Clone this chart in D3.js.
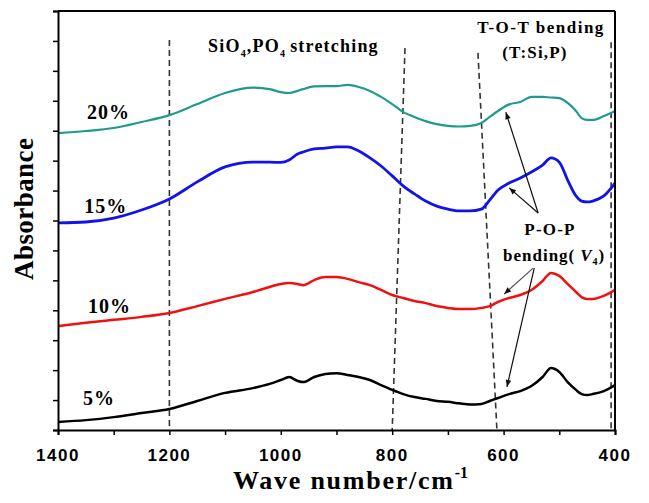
<!DOCTYPE html>
<html>
<head>
<meta charset="utf-8">
<script src="https://cdn.jsdelivr.net/npm/d3@7"></script>
<style>
  body { margin: 0; background: #fff; }
  .tick-label { font-family: "Liberation Sans", Arial, sans-serif; font-weight: bold; font-size: 17px; }
  .serif { font-family: "Liberation Serif", "Times New Roman", serif; font-weight: bold; }
</style>
</head>
<body>
<svg id="chart" width="649" height="503"></svg>
<script>
// wave numbers (cm-1) sampled along the spectra
var wavenumbers = [1400, 1350, 1300, 1250, 1200, 1150, 1100, 1050, 1020, 1000, 985, 970, 960, 940, 920, 900,
  880, 860, 840, 820, 800, 780, 760, 740, 720, 700, 680, 660, 640, 625, 610, 590, 570, 550, 530, 515,
  500, 485, 470, 460, 450, 440, 420, 400];
var abs20 = [9.92, 9.99, 10.09, 10.29, 10.52, 10.89, 11.26, 11.44, 11.39, 11.29, 11.26, 11.33, 11.39, 11.48, 11.49, 11.49,
  11.53, 11.46, 11.33, 11.13, 10.89, 10.62, 10.46, 10.32, 10.22, 10.16, 10.14, 10.16, 10.26, 10.46, 10.66, 10.88,
  10.96, 11.13, 11.13, 11.11, 11.09, 10.93, 10.66, 10.42, 10.36, 10.36, 10.49, 10.66];
var abs15 = [6.92, 6.95, 7.08, 7.35, 7.72, 8.29, 8.79, 8.95, 8.95, 8.94, 9.02, 9.22, 9.29, 9.39, 9.42, 9.46,
  9.46, 9.32, 9.09, 8.82, 8.49, 8.15, 7.89, 7.65, 7.48, 7.38, 7.32, 7.32, 7.38, 7.68, 8.02, 8.25,
  8.42, 8.62, 8.85, 9.09, 8.95, 8.35, 7.82, 7.65, 7.62, 7.65, 7.82, 8.25];
var abs10 = [3.47, 3.58, 3.68, 3.78, 3.91, 4.14, 4.38, 4.61, 4.78, 4.88, 4.91, 4.88, 4.84, 5.01, 5.11, 5.11,
  5.05, 4.94, 4.84, 4.68, 4.51, 4.41, 4.31, 4.24, 4.14, 4.08, 4.04, 4.04, 4.08, 4.14, 4.28, 4.41,
  4.51, 4.68, 4.98, 5.25, 5.15, 4.88, 4.61, 4.44, 4.38, 4.38, 4.48, 4.68];
var abs5 = [0.27, 0.33, 0.43, 0.57, 0.70, 0.97, 1.24, 1.40, 1.54, 1.67, 1.77, 1.64, 1.60, 1.77, 1.87, 1.90,
  1.84, 1.77, 1.67, 1.50, 1.34, 1.20, 1.10, 1.04, 0.97, 0.94, 0.89, 0.85, 0.87, 0.97, 1.07, 1.20,
  1.30, 1.47, 1.77, 2.07, 1.94, 1.60, 1.34, 1.20, 1.17, 1.20, 1.30, 1.50];
var seriesNames = ["20%", "15%", "10%", "5%"];
var xTickValues = [1400, 1300, 1200, 1100, 1000, 900, 800, 700, 600, 500, 400];
var xTickLabels = [1400, 1200, 1000, 800, 600, 400];
var yTickValues = [0, 1, 2, 3, 4, 5, 6, 7, 8, 9, 10, 11, 12, 13, 14];
// dashed guide lines: wave number at top and bottom, absorbance at top
var guideTopW = [1200, 777, 646, 407];
var guideBottomW = [1200, 800, 612, 407];
var guideTopA = [13.03, 12.76, 12.6, 12.96];
// arrows from the P-O-P label
var arrowFrom = [[538, 7.25], [538, 7.25], [547, 5.41], [545, 5.41]];
var arrowTo = [[596, 10.62], [590, 8.09], [599, 4.54], [594, 1.44]];

var W = 649, H = 503;
var margin = {top: 11, right: 34, bottom: 73, left: 58};
var chartWidth = W - margin.left - margin.right;
var chartHeight = H - margin.top - margin.bottom;

var svg = d3.select('#chart');
var g = svg.append('g').attr('transform', 'translate(' + margin.left + ',' + margin.top + ')');

var xScale = d3.scaleLinear().domain([1400, 400]).range([0, chartWidth]);
var yScale = d3.scaleLinear().domain([0, 14]).range([chartHeight, 0]);

var series = [
  {name: seriesNames[0], values: abs20, color: '#1f9a8c', width: 2.2, labelW: 1348, labelA: 10.39},
  {name: seriesNames[1], values: abs15, color: '#1212ee', width: 2.8, labelW: 1353, labelA: 7.25},
  {name: seriesNames[2], values: abs10, color: '#f01010', width: 2.5, labelW: 1346, labelA: 3.91},
  {name: seriesNames[3], values: abs5, color: '#000000', width: 2.5, labelW: 1355, labelA: 0.84}
];

// guides
g.selectAll('.guide')
  .data(guideTopW)
  .enter().append('line')
  .attr('class', 'guide')
  .attr('x1', function (d) { return xScale(d); })
  .attr('y1', function (d, i) { return yScale(guideTopA[i]); })
  .attr('x2', function (d, i) { return xScale(guideBottomW[i]); })
  .attr('y2', chartHeight)
  .attr('stroke', '#333')
  .attr('stroke-width', 1.6)
  .attr('stroke-dasharray', '6,4');

// curves
var line = d3.line()
  .x(function (d) { return xScale(d[0]); })
  .y(function (d) { return yScale(d[1]); })
  .curve(d3.curveMonotoneX);

series.forEach(function (s) {
  var pts = wavenumbers.map(function (w, i) { return [w, s.values[i]]; });
  g.append('path')
    .datum(pts)
    .attr('d', line)
    .attr('fill', 'none')
    .attr('stroke', s.color)
    .attr('stroke-width', s.width)
    .attr('stroke-linejoin', 'round');
  g.append('text')
    .attr('class', 'serif')
    .attr('x', xScale(s.labelW))
    .attr('y', yScale(s.labelA))
    .attr('font-size', 20)
    .attr('letter-spacing', 1)
    .text(s.name);
});

// arrows
var defs = svg.append('defs');
defs.append('marker')
  .attr('id', 'head')
  .attr('viewBox', '0 -5 10 10')
  .attr('refX', 10).attr('refY', 0)
  .attr('markerWidth', 10).attr('markerHeight', 7)
  .attr('markerUnits', 'userSpaceOnUse')
  .attr('orient', 'auto')
  .append('path').attr('d', 'M0,-4L10,0L0,4Z').attr('fill', '#111');

g.selectAll('.arrow')
  .data(arrowFrom)
  .enter().append('line')
  .attr('class', 'arrow')
  .attr('x1', function (d) { return xScale(d[0]); })
  .attr('y1', function (d) { return yScale(d[1]); })
  .attr('x2', function (d, i) { return xScale(arrowTo[i][0]); })
  .attr('y2', function (d, i) { return yScale(arrowTo[i][1]); })
  .attr('stroke', function (d, i) { return i === 2 ? '#555' : '#111'; })
  .attr('stroke-width', 1.2)
  .attr('marker-end', 'url(#head)');

// axes
var xAxis = g.append('g')
  .attr('transform', 'translate(0,' + chartHeight + ')')
  .call(d3.axisBottom(xScale).tickValues(xTickValues).tickSize(5).tickFormat(''));
xAxis.select('.domain').attr('stroke-width', 2);
xAxis.selectAll('.tick line').attr('stroke-width', 1.5);

var yAxis = g.append('g')
  .call(d3.axisLeft(yScale).tickValues(yTickValues).tickSize(5).tickFormat(''));
yAxis.select('.domain').attr('stroke-width', 2);
yAxis.selectAll('.tick line').attr('stroke-width', 1.5);

// top and right frame
g.append('line').attr('x1', 0).attr('x2', chartWidth).attr('y1', 0).attr('y2', 0)
  .attr('stroke', '#000').attr('stroke-width', 2);
g.append('line').attr('x1', chartWidth).attr('x2', chartWidth).attr('y1', 0).attr('y2', chartHeight)
  .attr('stroke', '#000').attr('stroke-width', 2);

g.selectAll('.xlab')
  .data(xTickLabels)
  .enter().append('text')
  .attr('class', 'tick-label')
  .attr('x', function (d) { return xScale(d); })
  .attr('y', chartHeight + 31)
  .attr('text-anchor', 'middle')
  .attr('letter-spacing', 1.5)
  .text(function (d) { return d; });

// axis titles
svg.append('text')
  .attr('class', 'serif')
  .attr('transform', 'translate(33,209) rotate(-90)')
  .attr('text-anchor', 'middle')
  .attr('font-size', 27)
  .attr('textLength', 142)
  .attr('lengthAdjust', 'spacing')
  .text('Absorbance');

var xt = svg.append('text')
  .attr('class', 'serif')
  .attr('x', 233)
  .attr('y', 489)
  .attr('font-size', 26);
xt.append('tspan').attr('textLength', 220).attr('lengthAdjust', 'spacing').text('Wave number/cm');
xt.append('tspan').attr('font-size', 16).attr('dy', -11).text('-1');

// annotations
var a1 = svg.append('text').attr('class', 'serif').attr('x', 208).attr('y', 52)
  .attr('font-size', 18).attr('letter-spacing', 1.2);
a1.append('tspan').text('SiO');
a1.append('tspan').attr('font-size', 10).attr('dy', 5).text('4');
a1.append('tspan').attr('dy', -5).text(',PO');
a1.append('tspan').attr('font-size', 10).attr('dy', 5).text('4');
a1.append('tspan').attr('dy', -5).attr('dx', 4).text('stretching');

svg.append('text').attr('class', 'serif').attr('x', 541).attr('y', 33)
  .attr('text-anchor', 'middle').attr('font-size', 17).attr('letter-spacing', 1.5)
  .text('T-O-T bending');
svg.append('text').attr('class', 'serif').attr('x', 535).attr('y', 58)
  .attr('text-anchor', 'middle').attr('font-size', 17).attr('letter-spacing', 1.2)
  .text('(T:Si,P)');
svg.append('text').attr('class', 'serif').attr('x', 550).attr('y', 235)
  .attr('text-anchor', 'middle').attr('font-size', 17).attr('letter-spacing', 1.2)
  .text('P-O-P');
var a4 = svg.append('text').attr('class', 'serif').attr('x', 503).attr('y', 261)
  .attr('font-size', 17).attr('letter-spacing', 1);
a4.append('tspan').text('bending(');
a4.append('tspan').attr('dx', 5).attr('font-style', 'italic').text('V');
a4.append('tspan').attr('font-size', 10).attr('dy', 4).text('4');
a4.append('tspan').attr('dy', -4).text(')');
</script>
</body>
</html>
